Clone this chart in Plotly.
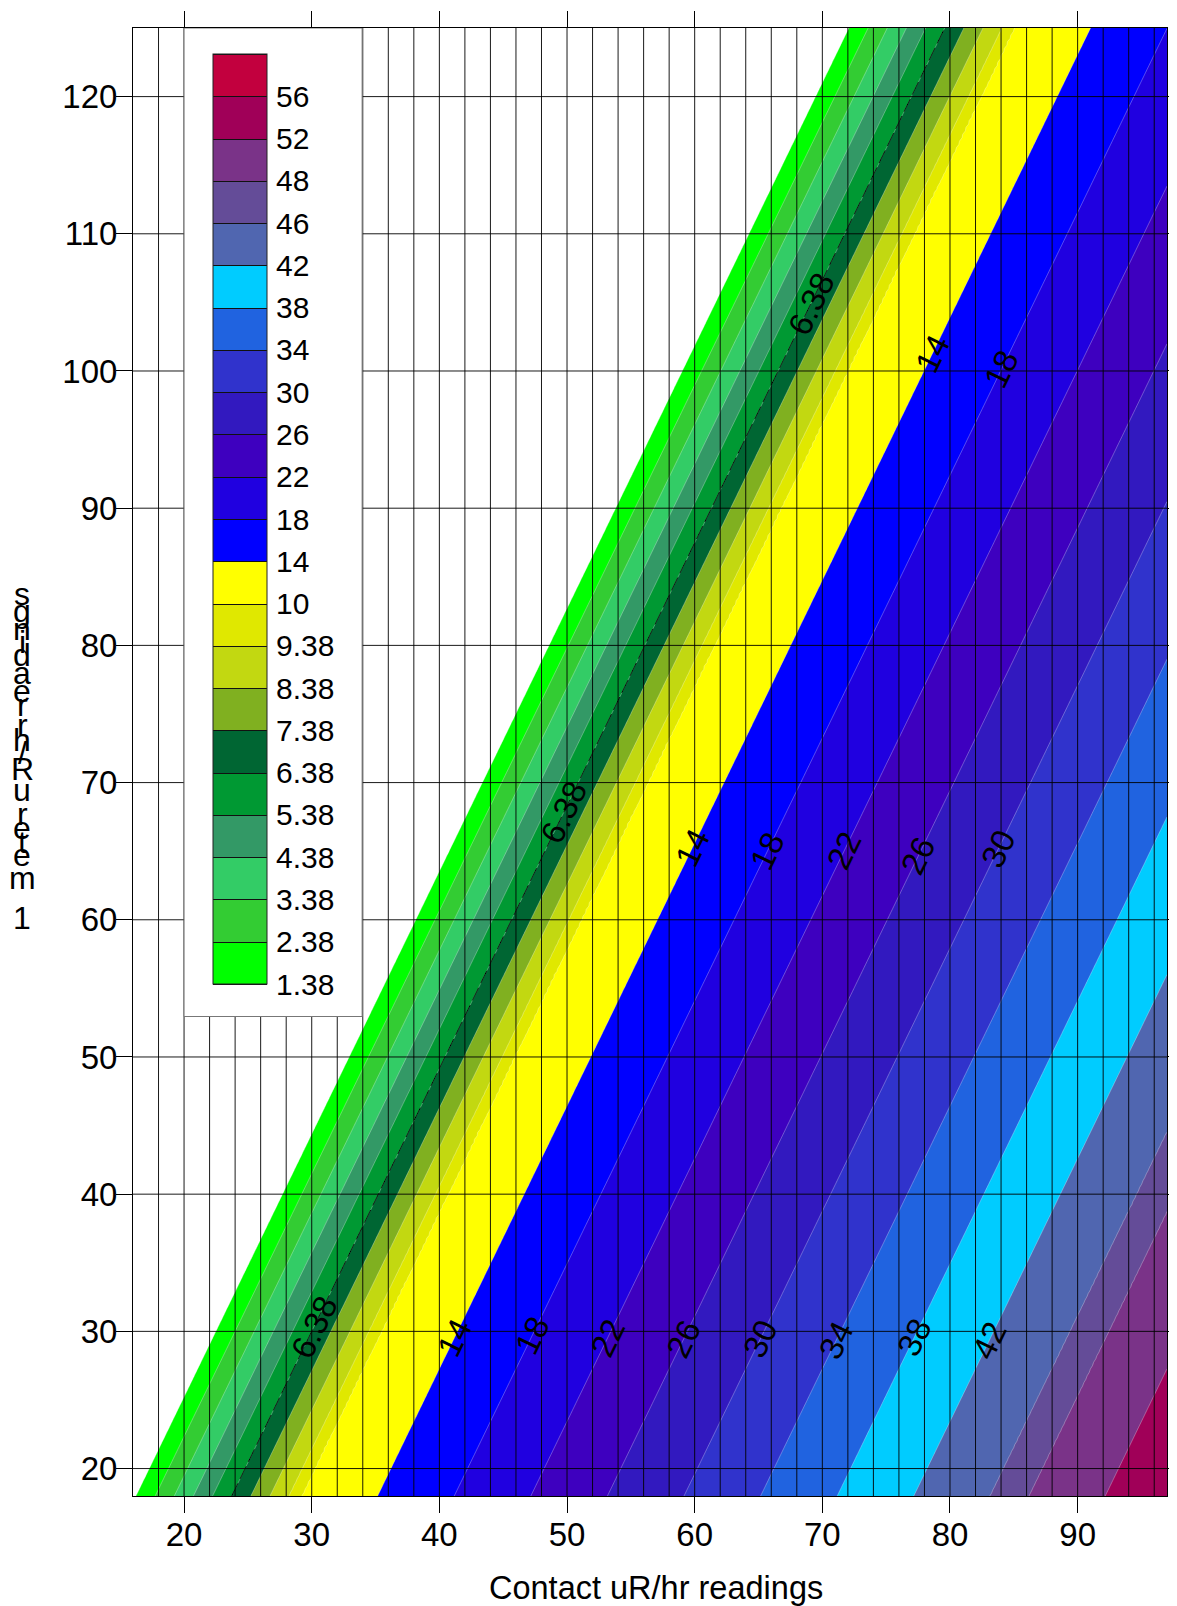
import numpy as np
import plotly.graph_objects as go

# ---------------- data ----------------
# contour levels (z) ; band k spans levels[k] .. levels[k+1]
levels = [1.38, 2.38, 3.38, 4.38, 5.38, 6.38, 7.38, 8.38, 9.38, 10,
          14, 18, 22, 26, 30, 34, 38, 42, 46, 48, 52, 56]
level_labels = ["1.38", "2.38", "3.38", "4.38", "5.38", "6.38", "7.38", "8.38",
                "9.38", "10", "14", "18", "22", "26", "30", "34", "38", "42",
                "46", "48", "52", "56"]
band_colors = ["#00FF00", "#33CC33", "#33CC66", "#339966", "#009933", "#006633",
               "#80B020", "#C2D811", "#E0E800", "#FFFF00", "#0000FF", "#2000E0",
               "#3E00BF", "#3219BF", "#3033CC", "#2063E0", "#00CCFF", "#5066B0",
               "#644C98", "#7A3388", "#A00058", "#C2003E"]

# the surface is a plane: z = cx*x + cy*y + c0
plane_cx = 0.6667
plane_cy = -0.348
plane_c0 = -3.18

x_range = [16, 97]
y_range = [18, 125]
x_ticks = [20, 30, 40, 50, 60, 70, 80, 90]
y_ticks = [20, 30, 40, 50, 60, 70, 80, 90, 100, 110, 120]
x_grid = list(range(18, 97, 2))
y_grid = y_ticks

# contour labels: (level, y position along the line)
contour_label_pos = [
    (6.38, 30.3), (14, 29.55), (18, 29.7), (22, 29.55), (26, 29.47), (30, 29.47),
    (34, 29.32), (38, 29.55), (42, 29.32),
    (6.38, 67.8), (14, 65.26), (18, 65.03), (22, 65.03), (26, 64.66), (30, 65.18),
    (6.38, 104.87), (14, 101.28), (18, 100.15),
]
dashed_level = 6.38

x_title = "Contact uR/hr readings"
y_title = "1 meter uR/hr readings"

# ---------------- layout constants (page pixels) ----------------
PAGE_OFF = 8                      # page body margin in the browser
W, H = 1177 - PAGE_OFF, 1606 - PAGE_OFF
PL, PR, PT, PB = 133, 1167, 28, 1496   # plot area on the page
ML, MT = PL - PAGE_OFF, PT - PAGE_OFF
PW, PH = PR - PL, PB - PT
MR = W - ML - PW
MB = H - MT - PH
FONT = "Liberation Sans, Arial, sans-serif"
TICKLEN = 16

def px_to_paper_x(px):
    return (px - PL) / PW

def px_to_paper_y(py):
    return (PB - py) / PH

# ---------------- grid of the field ----------------
xs = np.arange(x_range[0], x_range[1] + 1e-9, 0.25)
ys = np.arange(y_range[0], y_range[1] + 1e-9, 0.25)
XX, YY = np.meshgrid(xs, ys)
Z = plane_cx * XX + plane_cy * YY + plane_c0

# map the non-uniform levels onto an index space (level k -> k+1)
nlev = len(levels)
lev_ext = [levels[0] - 200] + levels + [levels[-1] + 200]
idx_ext = [1 - 200] + list(range(1, nlev + 1)) + [nlev + 200 / 4]
ZI = np.round(np.interp(Z, lev_ext, idx_ext), 4)

# colour scale: f=0 -> white (below first level), band centres -> band colours
colorscale = [[0.0, "#FFFFFF"]]
for j, c in enumerate(band_colors):
    colorscale.append([(j + 0.5) / nlev, c])
colorscale.append([1.0, band_colors[-1]])

zmin, zmax = 1, nlev + 1

fig = go.Figure()

fig.add_trace(go.Contour(
    x=xs, y=ys, z=ZI,
    autocontour=False,
    contours=dict(start=1, end=nlev + 1, size=1, coloring="fill", showlabels=False),
    colorscale=colorscale, zmin=zmin, zmax=zmax,
    line=dict(color="rgba(255,255,255,0.38)", width=0.8, smoothing=0),
    showscale=False, hoverinfo="skip",
))

# dashed line on the 6.38 contour
dash_idx = levels.index(dashed_level) + 1
fig.add_trace(go.Contour(
    x=xs, y=ys, z=ZI,
    autocontour=False,
    contours=dict(start=dash_idx, end=dash_idx, size=1, coloring="none", showlabels=False),
    line=dict(color="black", width=1, dash="14px,5px", smoothing=0),
    showscale=False, hoverinfo="skip",
))

# colour key (uses black separators)
sub = slice(None, None, 8)
fig.add_trace(go.Contour(
    x=xs[sub], y=ys[sub], z=ZI[sub, sub],
    autocontour=False,
    contours=dict(start=1, end=nlev + 1, size=1, coloring="fill", showlabels=False),
    colorscale=colorscale, zmin=zmin, zmax=zmax,
    line=dict(color="#111111", width=1, smoothing=0),
    opacity=0, hoverinfo="skip",
    showscale=True,
    colorbar=dict(
        tickvals=list(range(1, nlev + 1)), ticktext=level_labels,
        ticks="outside", ticklen=3, tickcolor="rgba(0,0,0,0)",
        tickfont=dict(size=30, family=FONT, color="black"),
        thickness=54, lenmode="pixels", len=930,
        x=px_to_paper_x(213.3), xanchor="left", xpad=0,
        y=px_to_paper_y(54), yanchor="top", ypad=0,
        outlinecolor="#222222", outlinewidth=1, borderwidth=0,
    ),
))

# grid lines drawn above the filled contours
shapes = []
for v in x_grid:
    shapes.append(dict(type="line", xref="x", yref="paper", x0=v, x1=v, y0=0, y1=1,
                       line=dict(color="rgba(0,0,0,0.9)", width=1), layer="above"))
for v in y_grid:
    shapes.append(dict(type="line", xref="paper", yref="y", x0=0, x1=1, y0=v, y1=v,
                       line=dict(color="rgba(0,0,0,0.9)", width=1), layer="above"))
# white panel behind the colour key
shapes.append(dict(type="rect", xref="x", yref="y", x0=20, x1=33.95, y0=52.95, y1=y_range[1],
                   fillcolor="white", line=dict(color="#777777", width=1), layer="above"))

annotations = []
# contour labels
px_per_x = PW / (x_range[1] - x_range[0])
px_per_y = PH / (y_range[1] - y_range[0])
ang = -np.degrees(np.arctan2(px_per_y, (-plane_cy / plane_cx) * px_per_x))
for lev, yv in contour_label_pos:
    xv = (lev - plane_c0 - plane_cy * yv) / plane_cx
    annotations.append(dict(x=xv, y=yv, xref="x", yref="y", text=level_labels[levels.index(lev)],
                            showarrow=False, textangle=ang,
                            font=dict(size=33, family=FONT, color="black")))

# x axis title
annotations.append(dict(x=px_to_paper_x(655.6), y=px_to_paper_y(1588), xref="paper", yref="paper",
                        text=x_title, showarrow=False, xanchor="center", yanchor="middle",
                        font=dict(size=32.5, family=FONT, color="black")))

# y axis title: characters stacked (reversed) as in the original
adv = {"s": .5, "g": .556, "n": .556, "i": .222, "d": .556, "a": .556, "e": .556, "r": .333,
       " ": .278, "h": .556, "/": .278, "R": .722, "u": .556, "t": .278, "m": .833, "1": .556}
stack = y_title[::-1].replace("retem 1", "retem  1")
em_px, top_px, cx_px = 32.5, 586, 22
cum = 0.0
for ch in stack:
    a = adv.get(ch, .556)
    cy_px = top_px + (cum + a / 2) * em_px
    cum += a
    if ch == " ":
        continue
    annotations.append(dict(x=px_to_paper_x(cx_px), y=px_to_paper_y(cy_px), xref="paper", yref="paper",
                            text=ch, showarrow=False, xanchor="center", yanchor="middle",
                            font=dict(size=32, family=FONT, color="black")))

axis_common = dict(showgrid=False, zeroline=False, showline=True, linecolor="black", linewidth=1,
                   mirror="ticks", ticks="outside", ticklen=TICKLEN, tickwidth=1, tickcolor="black",
                   tickfont=dict(size=33, family=FONT, color="black"))

fig.update_layout(
    width=W, height=H, autosize=False,
    margin=dict(l=ML, r=MR, t=MT, b=MB, pad=0, autoexpand=False),
    paper_bgcolor="white", plot_bgcolor="white",
    xaxis=dict(range=x_range, tickvals=x_ticks, ticklabelstandoff=-7, **axis_common),
    yaxis=dict(range=y_range, tickvals=y_ticks, ticklabelstandoff=-8, **axis_common),
    shapes=shapes, annotations=annotations,
    showlegend=False,
    font=dict(family=FONT, color="black"),
)

fig.write_html("out.html")
